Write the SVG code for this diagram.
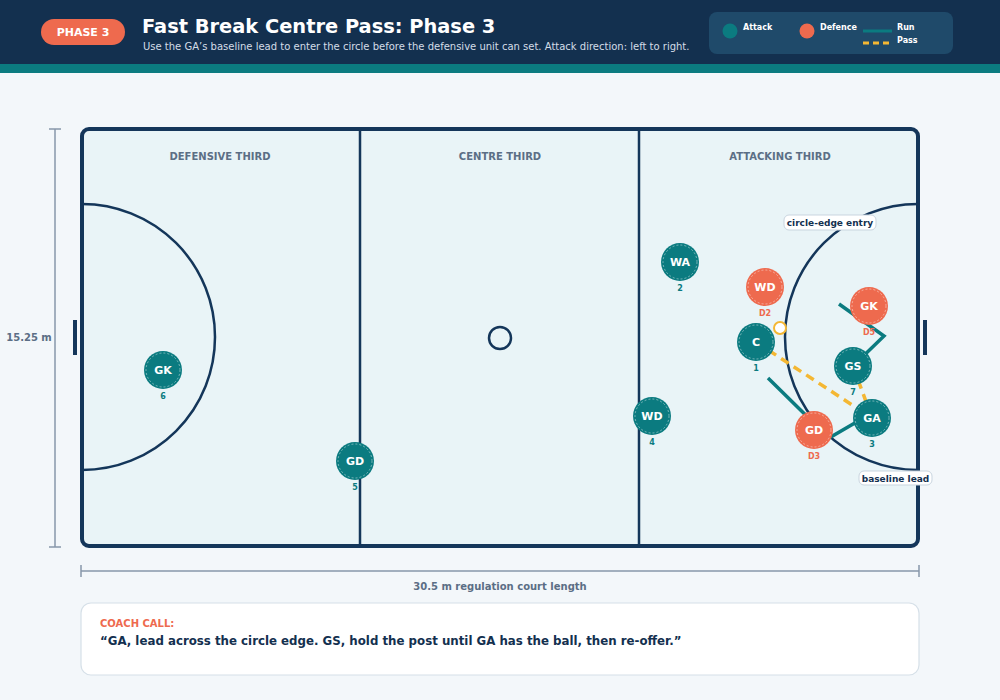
<svg xmlns="http://www.w3.org/2000/svg" width="1000" height="700" viewBox="0 0 1000 700">
  <defs>
    <style>
      text { font-family: "DejaVu Sans", "Liberation Sans", sans-serif; }
      .zone { font-size: 10px; font-weight: bold; fill: #5b6e85; text-anchor: middle; }
      .court { fill: none; stroke: #14365a; stroke-width: 2.5; }
      .pl-a { fill: #0b7b80; }
      .pl-d { fill: #ee6a4e; }
      .ring { fill: none; stroke: #ffffff; stroke-opacity: 0.55; stroke-width: 0.8; stroke-dasharray: 2 2; }
      .pname { font-size: 11px; font-weight: bold; fill: #ffffff; text-anchor: middle; }
      .num-a { font-size: 8px; font-weight: bold; fill: #0b7b80; text-anchor: middle; }
      .num-d { font-size: 8px; font-weight: bold; fill: #ee6a4e; text-anchor: middle; }
      .run { fill: none; stroke: #0b7b80; stroke-width: 3.5; stroke-linejoin: miter; }
      .pass { fill: none; stroke: #f4b733; stroke-width: 3.5; stroke-dasharray: 9 6; }
      .tag { fill: #ffffff; stroke: #c9d5df; stroke-width: 1; }
      .tagt { font-size: 9px; font-weight: bold; fill: #13304f; text-anchor: middle; }
      .dim { stroke: #8797aa; stroke-width: 1.5; fill: none; }
      .dimt { font-size: 10px; font-weight: bold; fill: #5b6e85; }
      .leg { font-size: 8px; font-weight: bold; fill: #ffffff; }
    </style>
  </defs>

  <rect x="0" y="0" width="1000" height="700" fill="#f3f7fa"/>

  <g id="header">
    <rect x="0" y="0" width="1000" height="64" fill="#13304f"/>
    <rect x="0" y="64" width="1000" height="9" fill="#0b7b80"/>
    <rect x="41" y="19" width="84" height="26" rx="13" fill="#ee6a4e"/>
    <text x="83" y="36" font-size="11" font-weight="bold" fill="#ffffff" text-anchor="middle">PHASE 3</text>
    <text x="142" y="33" font-size="19.4" font-weight="bold" fill="#ffffff">Fast Break Centre Pass: Phase 3</text>
    <text x="143" y="50" font-size="10" fill="#d3dde7">Use the GA’s baseline lead to enter the circle before the defensive unit can set. Attack direction: left to right.</text>
  </g>

  <g id="legend">
    <rect x="709" y="12" width="244" height="42" rx="8" fill="#1f4a6a"/>
    <circle cx="730" cy="31" r="7.5" fill="#0b7b80"/>
    <text x="743" y="30" class="leg">Attack</text>
    <circle cx="807" cy="31" r="7.5" fill="#ee6a4e"/>
    <text x="820" y="30" class="leg">Defence</text>
    <line x1="863" y1="31" x2="892" y2="31" stroke="#0b7b80" stroke-width="3"/>
    <text x="897" y="30" class="leg">Run</text>
    <line x1="863" y1="43" x2="892" y2="43" stroke="#f4b733" stroke-width="3" stroke-dasharray="6 4"/>
    <text x="897" y="43" class="leg">Pass</text>
  </g>

  <g id="court">
    <rect x="82" y="129" width="836" height="417" rx="7" fill="#e9f4f7" stroke="#14365a" stroke-width="4"/>
    <line x1="360" y1="129" x2="360" y2="546" class="court"/>
    <line x1="639" y1="129" x2="639" y2="546" class="court"/>
    <path d="M82,204 A133,133 0 0 1 82,470" class="court"/>
    <path d="M918,204 A133,133 0 0 0 918,470" class="court"/>
    <circle cx="500" cy="338" r="11" class="court"/>
    <line x1="75" y1="320" x2="75" y2="355" stroke="#14365a" stroke-width="4"/>
    <line x1="925" y1="320" x2="925" y2="355" stroke="#14365a" stroke-width="4"/>
    <text x="220" y="160" class="zone">DEFENSIVE THIRD</text>
    <text x="500" y="160" class="zone">CENTRE THIRD</text>
    <text x="780" y="160" class="zone">ATTACKING THIRD</text>
  </g>

  <g id="dimensions">
    <line x1="55" y1="129" x2="55" y2="547" class="dim"/>
    <line x1="49" y1="129" x2="61" y2="129" class="dim"/>
    <line x1="49" y1="547" x2="61" y2="547" class="dim"/>
    <text x="29" y="341" class="dimt" text-anchor="middle">15.25 m</text>
    <line x1="81" y1="571" x2="919" y2="571" class="dim"/>
    <line x1="81" y1="565" x2="81" y2="577" class="dim"/>
    <line x1="919" y1="565" x2="919" y2="577" class="dim"/>
    <text x="500" y="590" class="dimt" text-anchor="middle">30.5 m regulation court length</text>
  </g>

  <g id="connectors">
    <polyline points="768,378 829,438 872,413" class="run"/>
    <polyline points="839,304 884,336 853,366" class="run"/>
    <line x1="756" y1="342" x2="872" y2="418" class="pass"/>
    <line x1="853" y1="366" x2="872" y2="418" class="pass"/>
  </g>

  <g id="ball">
    <circle cx="780" cy="328" r="6" fill="#ffffff" stroke="#f4b733" stroke-width="2"/>
  </g>

  <g id="label-circle-edge">
    <rect x="784" y="215" width="92" height="15" rx="5" class="tag"/>
    <text x="830" y="226" class="tagt">circle-edge entry</text>
  </g>
  <g id="label-baseline">
    <rect x="859" y="471" width="73" height="14" rx="5" class="tag"/>
    <text x="895.5" y="481.5" class="tagt">baseline lead</text>
  </g>

  <g id="att-gk"><circle cx="163" cy="370" r="19" class="pl-a"/><circle cx="163" cy="370" r="17" class="ring"/><text x="163" y="374" class="pname">GK</text><text x="163" y="399" class="num-a">6</text></g>
  <g id="att-gd"><circle cx="355" cy="461" r="19" class="pl-a"/><circle cx="355" cy="461" r="17" class="ring"/><text x="355" y="465" class="pname">GD</text><text x="355" y="490" class="num-a">5</text></g>
  <g id="att-wd"><circle cx="652" cy="416" r="19" class="pl-a"/><circle cx="652" cy="416" r="17" class="ring"/><text x="652" y="420" class="pname">WD</text><text x="652" y="445" class="num-a">4</text></g>
  <g id="att-wa"><circle cx="680" cy="262" r="19" class="pl-a"/><circle cx="680" cy="262" r="17" class="ring"/><text x="680" y="266" class="pname">WA</text><text x="680" y="291" class="num-a">2</text></g>
  <g id="def-wd"><circle cx="765" cy="287" r="19" class="pl-d"/><circle cx="765" cy="287" r="17" class="ring"/><text x="765" y="291" class="pname">WD</text><text x="765" y="316" class="num-d">D2</text></g>
  <g id="att-c"><circle cx="756" cy="342" r="19" class="pl-a"/><circle cx="756" cy="342" r="17" class="ring"/><text x="756" y="346" class="pname">C</text><text x="756" y="371" class="num-a">1</text></g>
  <g id="def-gk"><circle cx="869" cy="306" r="19" class="pl-d"/><circle cx="869" cy="306" r="17" class="ring"/><text x="869" y="310" class="pname">GK</text><text x="869" y="335" class="num-d">D5</text></g>
  <g id="att-gs"><circle cx="853" cy="366" r="19" class="pl-a"/><circle cx="853" cy="366" r="17" class="ring"/><text x="853" y="370" class="pname">GS</text><text x="853" y="395" class="num-a">7</text></g>
  <g id="def-gd"><circle cx="814" cy="430" r="19" class="pl-d"/><circle cx="814" cy="430" r="17" class="ring"/><text x="814" y="434" class="pname">GD</text><text x="814" y="459" class="num-d">D3</text></g>
  <g id="att-ga"><circle cx="872" cy="418" r="19" class="pl-a"/><circle cx="872" cy="418" r="17" class="ring"/><text x="872" y="422" class="pname">GA</text><text x="872" y="447" class="num-a">3</text></g>

  <g id="coach-call">
    <rect x="81" y="603" width="838" height="72" rx="10" fill="#ffffff" stroke="#d6e0e8" stroke-width="1.2"/>
    <text x="100" y="627" font-size="10" font-weight="bold" fill="#ee6a4e">COACH CALL:</text>
    <text x="100" y="645" font-size="11.8" font-weight="bold" fill="#13304f">“GA, lead across the circle edge. GS, hold the post until GA has the ball, then re-offer.”</text>
  </g>
</svg>
